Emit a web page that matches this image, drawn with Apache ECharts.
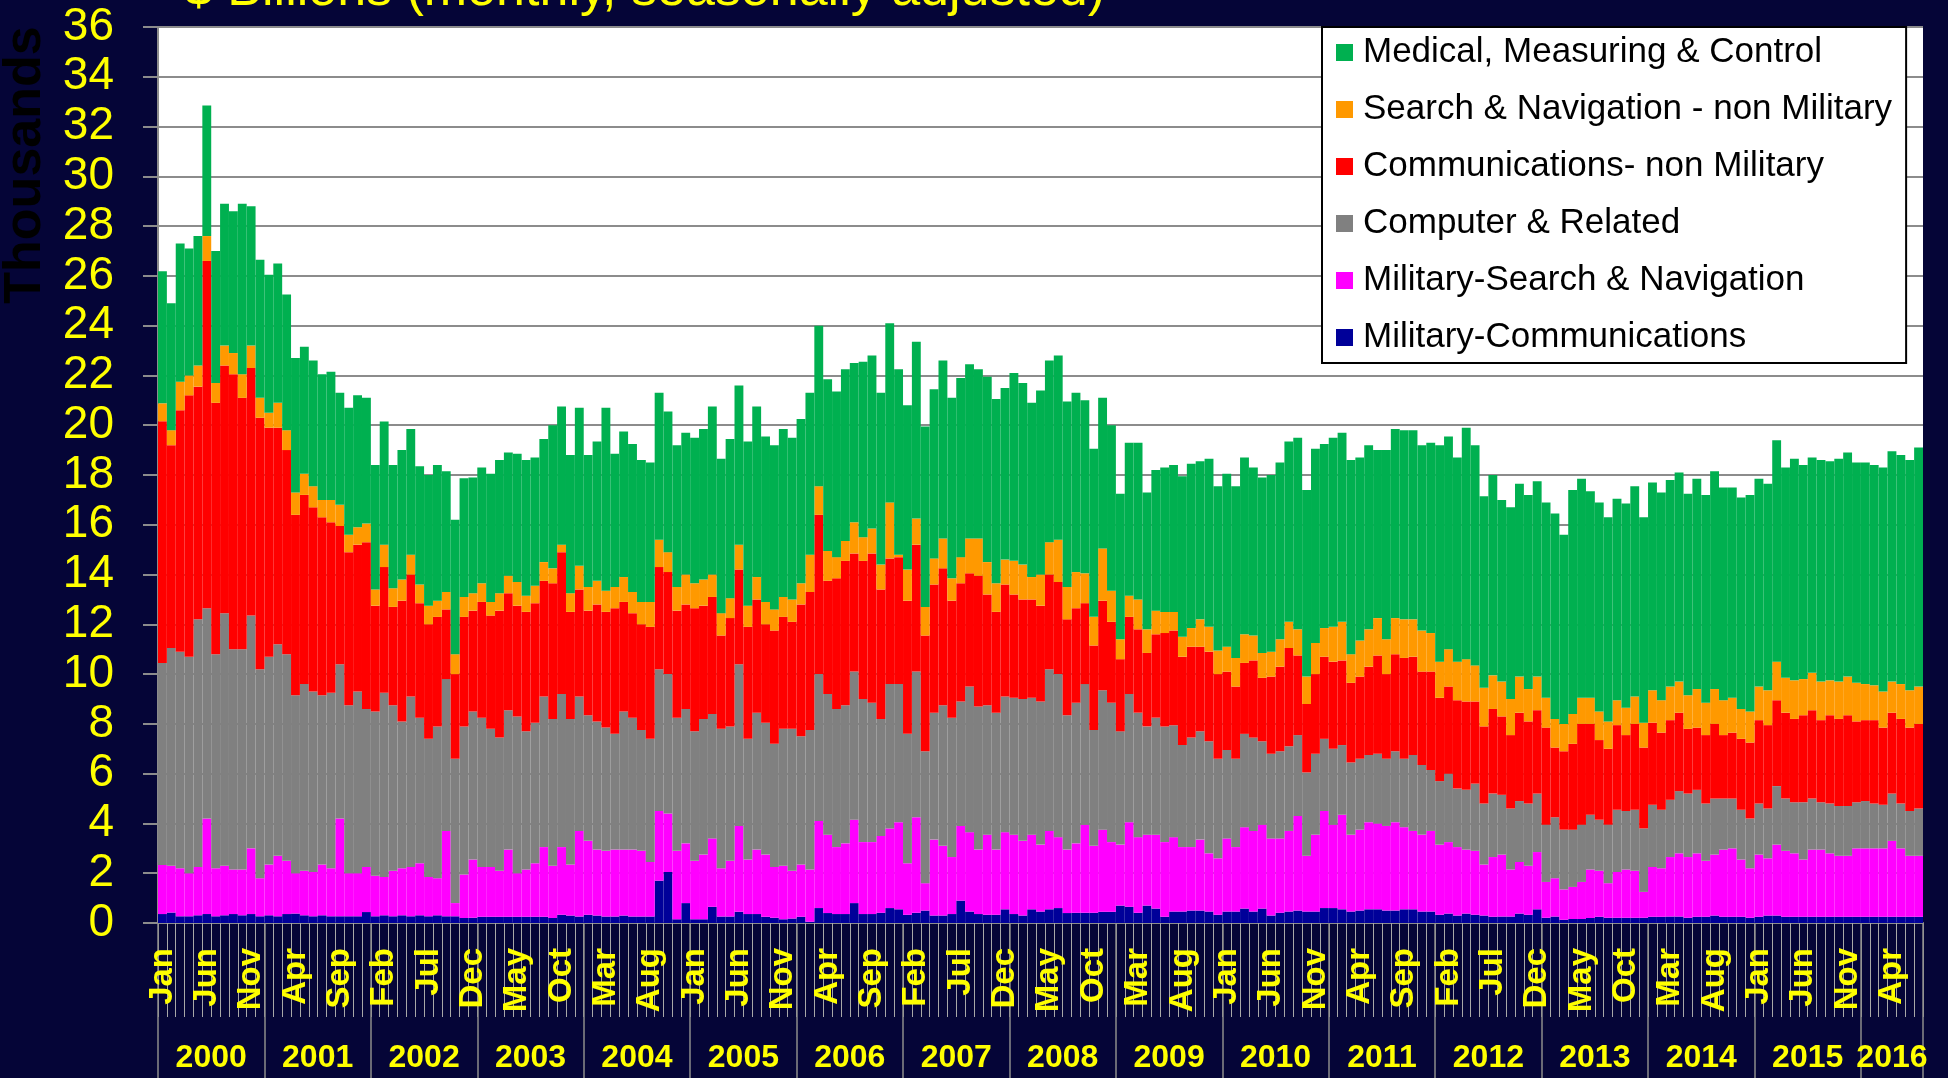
<!DOCTYPE html>
<html>
<head>
<meta charset="utf-8">
<script src="https://cdn.jsdelivr.net/npm/echarts@6/dist/echarts.min.js"></script>
<style>
  html, body { margin: 0; padding: 0; background: #050537; }
  #chart { width: 1948px; height: 1078px; }
</style>
</head>
<body>
<div id="chart"></div>
<script>
// 月份和年份
const monthNames = ['Jan','Feb','Mar','Apr','May','Jun','Jul','Aug','Sep','Oct','Nov','Dec'];
const yearNames = ['2000','2001','2002','2003','2004','2005','2006','2007','2008','2009','2010','2011','2012','2013','2014','2015','2016'];
const monthCount = 199; // Jan 2000 .. Jul 2016

// $ Billions (monthly, seasonally adjusted)
const milComm = [
  .36,.42,.27,.27,.31,.36,.27,.31,.36,.31,.36,.27,
  .31,.27,.36,.38,.31,.27,.31,.27,.27,.27,.27,.44,
  .27,.31,.27,.31,.27,.31,.27,.31,.27,.27,.2,.21,
  .25,.25,.25,.25,.25,.25,.25,.25,.2,.33,.3,.26,
  .33,.3,.26,.26,.3,.26,.26,.26,1.7,2.05,.15,.8,
  .15,.15,.65,.26,.26,.45,.36,.36,.25,.21,.15,.18,
  .25,.05,.6,.4,.36,.36,.8,.36,.36,.41,.6,.55,
  .33,.41,.5,.3,.3,.36,.9,.46,.36,.33,.33,.55,
  .36,.3,.55,.46,.55,.6,.4,.41,.41,.41,.45,.45,
  .7,.65,.41,.7,.58,.25,.46,.46,.5,.5,.46,.33,
  .46,.46,.58,.46,.58,.3,.41,.46,.5,.46,.46,.6,
  .6,.55,.46,.5,.55,.55,.5,.5,.55,.55,.46,.46,
  .33,.38,.3,.38,.33,.3,.25,.26,.26,.38,.33,.55,
  .21,.26,.13,.16,.16,.2,.25,.21,.21,.21,.21,.21,
  .25,.25,.26,.26,.21,.25,.25,.3,.25,.25,.25,.21,
  .25,.3,.3,.25,.25,.25,.25,.25,.25,.25,.25,.25,
  .25,.25,.25,.25,.25,.25,.25
];
const milSearch = [
  1.97,1.88,1.93,1.73,1.94,3.84,1.93,1.99,1.79,1.84,2.64,1.53,
  2.04,2.43,2.14,1.62,1.79,1.78,2.04,1.93,3.93,1.73,1.73,1.81,
  1.63,1.54,1.83,1.89,1.98,2.09,1.58,1.49,3.43,.53,1.75,2.34,
  2.0,2.0,1.85,2.7,1.75,1.9,2.15,2.8,2.1,2.72,2.05,3.44,
  2.97,2.65,2.64,2.69,2.65,2.69,2.64,2.19,2.8,2.35,2.75,2.4,
  2.35,2.6,2.75,1.94,2.24,3.45,2.19,2.59,2.5,2.04,2.15,1.92,
  2.1,2.1,3.5,3.15,2.69,2.84,3.35,2.89,2.89,3.09,3.2,3.5,
  2.07,3.84,1.1,3.05,2.8,2.29,3.0,3.19,2.59,3.22,2.62,3.1,
  3.19,3.0,3.0,2.69,3.15,2.85,2.55,2.79,3.54,2.69,3.3,2.8,
  2.45,3.4,3.04,2.85,2.97,3.0,2.99,2.59,2.55,2.85,2.34,2.27,
  2.94,2.59,3.27,3.24,3.37,3.1,2.99,3.24,3.8,2.24,3.09,3.9,
  3.35,3.8,3.09,3.25,3.5,3.45,3.4,3.55,3.3,3.15,3.09,3.24,
  2.82,2.87,2.75,2.57,2.57,2.05,2.4,2.49,1.89,2.07,1.97,2.3,
  1.44,1.54,1.22,1.29,1.49,1.95,1.85,1.39,1.84,1.94,1.89,1.04,
  2.0,1.95,2.39,2.54,2.44,2.55,2.25,2.45,2.7,2.75,2.3,1.99,
  2.5,2.3,2.85,2.65,2.55,2.3,2.7,2.7,2.55,2.45,2.45,2.75,
  2.75,2.75,2.75,3.05,2.75,2.45,2.45
];
const computer = [
  8.12,8.75,8.7,8.7,9.95,8.45,8.6,10.15,8.85,8.85,9.35,8.4,
  8.35,8.5,8.3,7.15,7.5,7.25,6.8,7.05,6.2,6.75,7.3,6.35,
  6.6,7.4,6.65,5.9,6.85,5.85,5.55,6.1,6.1,5.8,5.95,5.95,
  6.0,5.55,5.35,5.6,6.3,5.55,5.65,6.05,5.9,6.15,5.85,5.4,
  5.05,5.15,4.95,4.65,5.55,5.3,4.85,4.95,5.7,5.6,5.35,5.4,
  5.2,5.45,5.0,5.6,5.4,6.5,4.85,5.5,5.3,4.95,5.5,5.7,
  5.15,5.6,5.9,5.65,5.55,5.55,5.95,5.75,5.6,4.7,5.8,5.55,
  5.2,5.85,5.3,5.1,5.65,5.6,5.0,5.85,5.75,5.2,5.5,5.45,
  5.5,5.7,5.5,5.75,6.5,6.55,5.4,5.65,5.65,4.65,5.6,5.6,
  4.55,5.15,5.0,4.35,4.7,4.65,4.5,4.1,4.4,4.35,4.5,4.0,
  3.55,3.55,3.75,3.75,3.35,3.4,3.5,3.4,3.25,3.35,3.25,2.9,
  3.05,2.8,2.9,2.85,2.7,2.8,2.7,2.85,2.75,3.05,2.8,2.45,
  2.55,2.75,2.35,2.4,2.7,2.45,2.55,2.4,2.45,2.45,2.5,2.35,
  2.3,2.45,2.4,2.3,2.3,2.2,2.05,2.35,2.5,2.35,2.45,2.55,
  2.5,2.35,2.3,2.5,2.55,2.55,2.3,2.25,2.05,2.0,2.0,2.0,
  2.05,2.0,2.35,2.1,2.05,2.3,2.05,1.9,2.0,2.0,2.0,1.85,
  1.9,1.8,1.75,1.9,1.8,1.8,1.9
];
const commNonMil = [
  9.71,8.15,9.7,10.5,9.35,13.95,10.1,9.95,11.05,10.1,9.95,10.1,
  9.2,8.7,8.2,7.25,7.6,7.4,7.15,6.85,5.55,6.15,5.9,6.7,
  4.25,5.05,3.95,4.85,4.9,4.6,4.6,4.4,2.8,3.4,4.4,4.05,
  4.65,4.55,5.1,4.7,4.45,4.8,4.8,4.65,5.45,5.7,4.3,4.3,
  4.2,4.7,4.65,5.05,4.4,4.2,4.25,4.5,4.1,4.1,4.3,4.2,
  4.95,4.55,4.7,3.75,4.35,3.8,4.5,4.55,3.95,4.55,4.5,4.3,
  5.3,5.55,6.4,4.55,5.25,5.8,4.75,5.55,6.0,5.2,5.05,5.1,
  5.35,5.1,4.65,5.15,5.5,4.7,4.75,4.55,5.25,4.45,4.05,4.5,
  4.15,4.0,3.95,3.85,3.8,3.7,3.85,3.8,3.25,3.4,3.6,3.25,
  2.9,3.1,3.35,2.95,3.35,3.75,3.8,3.55,3.65,3.4,3.6,3.4,
  3.15,2.9,2.85,3.1,2.55,3.1,3.4,3.95,3.2,2.75,3.2,3.3,
  3.5,3.4,3.2,3.3,3.55,3.95,3.4,3.9,4.05,3.95,3.75,3.95,
  3.35,3.5,3.55,3.55,3.3,3.1,3.4,3.15,2.95,3.55,3.3,3.35,
  3.9,2.8,3.15,3.45,4.05,3.65,3.2,3.05,3.4,3.05,3.45,3.25,
  3.3,3.1,3.2,3.15,2.6,2.5,2.75,3.0,2.55,2.65,2.85,3.05,
  3.35,3.35,3.45,3.45,3.35,3.5,3.55,3.3,3.55,3.5,3.65,3.25,
  3.25,3.35,3.1,3.25,3.4,3.35,3.4
];
const searchNonMil = [
  .72,.6,1.15,.8,.85,1.0,.8,.8,.85,.95,.9,.8,
  .6,1.0,.8,.9,.85,.85,.7,.9,.85,.7,.7,.75,
  .65,.9,.75,.85,.8,.75,.75,.65,.7,.8,.8,.7,
  .75,.55,.7,.7,.95,.65,.7,.75,.6,.3,.75,.95,
  .95,.95,.85,.85,1.0,.85,.9,1.0,1.1,.8,.95,1.2,
  1.0,1.05,.9,.9,.8,1.0,.85,.9,.9,.85,.8,.9,
  .85,1.5,1.15,1.2,.85,.8,1.25,.95,1.0,1.0,2.25,.1,
  1.25,1.05,1.15,1.05,1.2,.9,1.05,1.4,1.5,1.3,1.15,1.0,
  1.35,1.4,.9,1.25,1.3,1.7,1.3,1.45,1.2,1.15,2.1,1.25,
  .8,.85,1.2,.95,.95,.85,.75,.8,.75,1.1,1.0,.95,
  1.0,1.15,1.15,1.0,1.0,1.0,1.1,1.05,1.05,1.1,1.25,1.15,
  1.4,1.55,1.15,1.45,1.5,1.5,1.4,1.45,1.55,1.5,1.65,1.55,
  1.45,1.5,1.55,1.7,1.45,1.55,1.35,1.4,1.45,1.45,1.3,1.35,
  1.2,1.15,1.1,1.2,1.05,1.05,1.15,1.1,1.0,1.1,1.1,1.0,
  1.3,1.3,1.35,1.25,1.35,1.55,1.3,1.4,1.4,1.4,1.2,1.25,
  1.35,1.4,1.55,1.4,1.55,1.45,1.5,1.55,1.4,1.5,1.55,1.55,
  1.45,1.4,1.45,1.25,1.4,1.5,1.5
];
const medical = [
  5.31,5.1,5.55,5.1,5.2,5.25,5.3,5.7,5.7,6.85,5.6,5.55,
  5.55,5.6,5.45,5.4,5.1,5.05,5.05,5.15,4.5,5.1,5.3,5.05,
  5.0,4.95,4.95,5.2,5.05,4.75,5.25,5.45,4.85,5.4,4.77,4.65,
  4.65,5.15,5.35,4.95,5.15,5.45,5.15,4.95,5.75,5.55,5.55,6.35,
  5.3,5.6,7.35,5.35,5.85,5.95,5.7,5.6,5.9,5.65,5.7,5.7,
  5.85,6.05,6.75,6.2,6.4,6.4,6.6,6.85,6.65,6.6,6.75,6.5,
  6.6,6.5,6.45,6.9,6.65,6.9,6.4,7.05,6.95,6.9,7.2,7.45,
  6.6,7.1,7.25,6.8,7.15,7.25,7.2,7.0,6.8,7.45,7.4,6.9,
  7.55,7.3,7.0,7.4,7.3,7.4,7.45,7.2,6.95,6.75,6.05,6.65,
  5.85,6.15,6.3,5.5,5.65,5.8,5.9,6.45,6.6,6.35,6.75,6.6,
  6.95,6.9,7.1,6.75,7.05,7.1,7.1,7.25,7.7,7.5,7.8,7.4,
  7.6,7.6,7.8,7.35,7.4,6.75,7.6,7.6,7.6,7.6,7.45,7.65,
  8.7,8.55,8.2,9.3,8.85,7.7,8.05,7.3,7.7,7.75,7.8,7.85,
  7.85,8.25,7.6,9.0,8.8,8.3,8.4,8.2,8.1,8.2,8.45,8.25,
  8.35,8.35,8.3,8.4,8.1,8.45,8.35,8.75,8.55,8.45,8.5,8.7,
  8.35,8.3,8.9,8.45,8.9,8.6,8.65,8.9,8.8,8.95,9.0,8.85,
  8.9,8.85,9.0,9.25,9.2,9.25,9.6
];

// 类目: "Jan 2000" ...
const categories = [];
for (let i = 0; i < monthCount; i++) {
  categories.push(monthNames[i % 12] + ' ' + yearNames[Math.floor(i / 12)]);
}
// year boundaries and year label positions on the 0..199 value axis
const yearTicks = [];
const yearLabelPos = [];
for (let y = 0; y < yearNames.length; y++) {
  yearTicks.push(y * 12);
  yearLabelPos.push(Math.min(y * 12 + 6, (y * 12 + monthCount) / 2));
}
yearTicks.push(monthCount);

const fontFam = '"Liberation Sans", Arial, sans-serif';
const gridCol = '#8c8c8c';

const chart = echarts.init(document.getElementById('chart'));

function bar(name, data, color) {
  return {
    name: name,
    type: 'bar',
    stack: 'total',
    barCategoryGap: '0%',
    data: data,
    itemStyle: { color: color },
    emphasis: { disabled: true }
  };
}

let option = {
  animation: false,
  backgroundColor: '#050537',
  grid: {
    left: 158, right: 25, top: 27, bottom: 155,
    show: true, backgroundColor: '#ffffff', borderWidth: 0
  },
  graphic: [
    {
      type: 'text', left: 184, top: -35, silent: true,
      style: { text: '$ Billions (monthly, seasonally adjusted)', fill: '#ffff00',
               font: '52px ' + fontFam }
    },
    {
      type: 'text', x: 26, y: 165, rotation: Math.PI / 2, silent: true,
      style: { text: 'Thousands', fill: '#000000', font: 'bold 52px ' + fontFam,
               align: 'center', verticalAlign: 'middle' }
    }
  ],
  legend: {
    orient: 'vertical',
    left: 1322, top: 27,
    backgroundColor: '#ffffff',
    borderColor: '#000000', borderWidth: 2, borderRadius: 0,
    padding: [8, 14, 8, 14],
    itemWidth: 17, itemHeight: 17, itemGap: 22,
    icon: 'rect',
    textStyle: { color: '#000000', fontSize: 35, fontFamily: fontFam, padding: [0, 0, 0, 5] },
    data: ['Medical, Measuring & Control', 'Search & Navigation - non Military',
           'Communications- non Military', 'Computer & Related',
           'Military-Search & Navigation', 'Military-Communications']
  },
  xAxis: [
    {
      type: 'category',
      data: categories,
      boundaryGap: true,
      axisLine: { show: true, lineStyle: { color: gridCol, width: 2 } },
      axisTick: { show: true, interval: 0, length: 94, lineStyle: { color: '#a8a8a8', width: 1 } },
      axisLabel: {
        interval: 4, rotate: 90, margin: 25,
        color: '#ffff00', fontSize: 33, fontWeight: 'bold', fontFamily: fontFam,
        formatter: function (v) { return v.split(' ')[0]; }
      },
      splitLine: { show: false }
    },
    {
      type: 'value',
      min: 0, max: monthCount,
      position: 'bottom',
      axisLine: { show: false },
      axisTick: { show: true, customValues: yearTicks, length: 156, lineStyle: { color: gridCol, width: 1.5 } },
      axisLabel: {
        customValues: yearLabelPos, margin: 135, verticalAlign: 'middle',
        color: '#ffff00', fontSize: 32, fontWeight: 'bold', fontFamily: fontFam,
        formatter: function (v) { return yearNames[Math.floor(v / 12)]; }
      },
      splitLine: { show: false }
    }
  ],
  yAxis: {
    type: 'value',
    min: 0, max: 36, interval: 2,
    axisLine: { show: true, lineStyle: { color: gridCol, width: 2 } },
    axisTick: { show: true, length: 15, lineStyle: { color: gridCol, width: 2 } },
    axisLabel: { color: '#ffff00', fontSize: 46, fontFamily: fontFam, margin: 44 },
    splitLine: { show: true, lineStyle: { color: gridCol, width: 2 } }
  },
  series: [
    bar('Military-Communications', milComm, '#000099'),
    bar('Military-Search & Navigation', milSearch, '#ff00ff'),
    bar('Computer & Related', computer, '#808080'),
    bar('Communications- non Military', commNonMil, '#ff0000'),
    bar('Search & Navigation - non Military', searchNonMil, '#ff9900'),
    bar('Medical, Measuring & Control', medical, '#00b050')
  ]
};
chart.setOption(option);
window.addEventListener('resize', function () { chart.resize(); });
</script>
</body>
</html>
